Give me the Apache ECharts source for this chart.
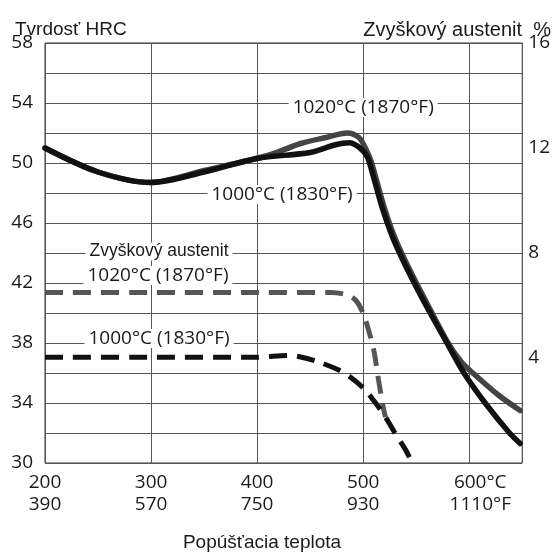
<!DOCTYPE html>
<html>
<head>
<meta charset="utf-8">
<script src="https://cdn.jsdelivr.net/npm/echarts@6/dist/echarts.min.js"></script>
<style>
  html, body { margin: 0; padding: 0; background: #fff; }
  #chart { width: 553px; height: 554px; }
</style>
</head>
<body>
<div id="chart"></div>
<script>
// tick labels
const celsiusTicks = [200, 300, 400, 500, 600];
const fahrenheitTicks = [390, 570, 750, 930, 1110];

// hardness HRC, hardened from 1000°C (1830°F)
const hard1000Temp = [200, 250, 300, 350, 400, 450, 473, 487, 497, 504, 510, 518, 528, 541, 557, 579, 595, 615, 638, 648];
const hard1000Hrc  = [51.0, 49.4, 48.7, 49.4, 50.3, 50.7, 51.2, 51.35, 51.0, 50.4, 49.0, 47.0, 45.0, 43.0, 40.8, 38.0, 36.0, 34.0, 32.0, 31.3];

// hardness HRC, hardened from 1020°C (1870°F)
const hard1020Temp = [200, 250, 300, 350, 410, 441, 465, 485, 496, 502, 507, 512, 520, 530, 543, 559, 580, 593, 605, 628, 648];
const hard1020Hrc  = [51.0, 49.4, 48.7, 49.5, 50.5, 51.3, 51.7, 52.0, 51.7, 51.0, 50.2, 49.0, 47.0, 45.0, 43.0, 40.8, 38.0, 36.7, 35.9, 34.5, 33.5];

// retained austenite %, 1020°C (1870°F)
const aust1020Temp = [200, 300, 400, 470, 485, 493, 500, 505, 510, 514.5, 519, 521];
const aust1020Pct  = [6.5, 6.5, 6.5, 6.5, 6.4, 6.2, 5.7, 5.07, 4.3, 3.16, 2.1, 1.75];

// retained austenite %, 1000°C (1830°F)
const aust1000Temp = [200, 300, 400, 430, 440, 458, 477, 489, 502, 511, 521, 530, 540, 545];
const aust1000Pct  = [4.03, 4.03, 4.03, 4.1, 4.05, 3.85, 3.54, 3.24, 2.78, 2.32, 1.75, 1.14, 0.5, 0.1];

const pairs = (xs, ys) => xs.map((x, i) => [x, ys[i]]);

const numFont = '"Open Sans", sans-serif';
const textFont = '"Liberation Sans", Arial, sans-serif';
const ink = '#1a1a1a';
const gridColor = '#555';

const chart = echarts.init(document.getElementById('chart'));

chart.setOption({
  animation: false,
  grid: {
    left: 45, right: 27, top: 43, bottom: 91,
    show: true, borderColor: '#333', borderWidth: 1, backgroundColor: 'transparent'
  },
  xAxis: {
    type: 'value', min: 200, max: 650, interval: 100,
    axisLine: { show: false },
    axisTick: { show: false },
    splitLine: { show: true, lineStyle: { color: gridColor, width: 1 } },
    axisLabel: {
      margin: 9, color: ink, fontFamily: numFont, fontSize: 19, lineHeight: 22,
      showMaxLabel: false,
      formatter: v => {
        const i = celsiusTicks.indexOf(v);
        if (i < 0) return '';
        if (v === 600) return '{r|' + v + '°C}\n{r|' + fahrenheitTicks[i] + '°F}';
        return v + '\n' + fahrenheitTicks[i];
      },
      rich: { r: { padding: [0, 0, 0, 22], color: ink, fontFamily: numFont, fontSize: 19, lineHeight: 22 } }
    }
  },
  yAxis: [
    {
      type: 'value', min: 30, max: 58, interval: 2,
      axisLine: { show: false },
      axisTick: { show: false },
      splitLine: { show: true, lineStyle: { color: gridColor, width: 1 } },
      axisLabel: {
        margin: 12, color: ink, fontFamily: numFont, fontSize: 19, padding: [5, 0, 0, 0],
        formatter: v => ((v - 30) % 4 === 0 ? String(v) : '')
      }
    },
    {
      type: 'value', min: 0, max: 16, interval: 4, position: 'right',
      axisLine: { show: false },
      axisTick: { show: false },
      splitLine: { show: false },
      axisLabel: {
        margin: 6, color: ink, fontFamily: numFont, fontSize: 19, padding: [5, 0, 0, 0],
        formatter: v => (v === 0 ? '' : String(v))
      }
    }
  ],
  series: [
    {
      name: 'HRC 1020', type: 'line', yAxisIndex: 0, symbol: 'none',
      smooth: 0.3,
      lineStyle: { color: '#444', width: 5.5, cap: 'round' },
      data: pairs(hard1020Temp, hard1020Hrc)
    },
    {
      name: 'HRC 1000', type: 'line', yAxisIndex: 0, symbol: 'none',
      smooth: 0.3,
      lineStyle: { color: '#111', width: 5.5, cap: 'round' },
      data: pairs(hard1000Temp, hard1000Hrc)
    },
    {
      name: 'Austenit 1020', type: 'line', yAxisIndex: 1, symbol: 'none',
      smooth: 0.3,
      lineStyle: { color: '#555', width: 5, type: [18, 10] },
      data: pairs(aust1020Temp, aust1020Pct)
    },
    {
      name: 'Austenit 1000', type: 'line', yAxisIndex: 1, symbol: 'none',
      smooth: 0.3,
      lineStyle: { color: '#111', width: 5, type: [18, 10] },
      data: pairs(aust1000Temp, aust1000Pct)
    }
  ]
});

// labels placed in data coordinates (temperature, HRC), white box cuts the grid lines
const notes = [
  { text: '1020°C (1870°F)', at: [500, 53.7], font: numFont, size: 19 },
  { text: '1000°C (1830°F)', at: [423.5, 47.9], font: numFont, size: 19 },
  { text: 'Zvyškový austenit', at: [307.5, 44.1], font: textFont, size: 17.5 },
  { text: '1020°C (1870°F)', at: [306.5, 42.5], font: numFont, size: 19 },
  { text: '1000°C (1830°F)', at: [307.5, 38.3], font: numFont, size: 19 }
];

const graphics = notes.map(n => {
  const p = chart.convertToPixel({ xAxisIndex: 0, yAxisIndex: 0 }, n.at);
  return {
    type: 'text', x: p[0], y: p[1], z: 10,
    style: {
      text: n.text, fill: ink, font: n.size + 'px ' + n.font,
      align: 'center', verticalAlign: 'middle',
      backgroundColor: '#fff', padding: [0, 4]
    }
  };
});

graphics.push(
  { type: 'text', x: 15, y: 30, style: { text: 'Tvrdosť HRC', fill: ink, font: '19px ' + textFont, verticalAlign: 'middle' } },
  { type: 'text', x: 551, y: 30, style: { text: 'Zvyškový austenit  %', fill: ink, font: '20px ' + textFont, align: 'right', verticalAlign: 'middle' } },
  { type: 'text', x: 262, y: 543, style: { text: 'Popúšťacia teplota', fill: ink, font: '19px ' + textFont, align: 'center', verticalAlign: 'middle' } }
);

chart.setOption({ graphic: graphics });
</script>
</body>
</html>
